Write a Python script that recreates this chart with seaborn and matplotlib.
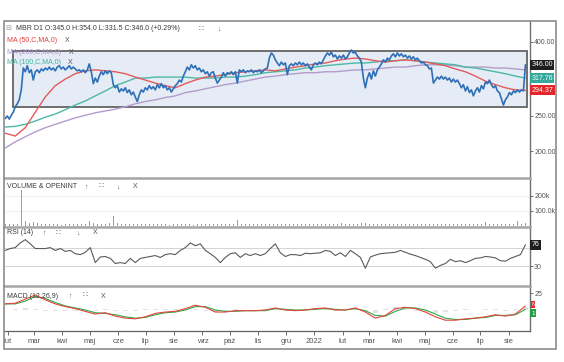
import numpy as np
import pandas as pd
import matplotlib
matplotlib.use("Agg")
import matplotlib.pyplot as plt
import matplotlib.ticker as mticker
import matplotlib.dates as mdates
import matplotlib.transforms as mtrans
from matplotlib.patches import Rectangle
import seaborn as sns

sns.set_theme(style="white")
plt.rcParams['font.family'] = ['Liberation Sans', 'DejaVu Sans']

# ---------------- data ----------------
start_date = "2021-01-29"
end_date = "2022-08-19"

price = [246, 250, 245, 251, 256, 265, 270, 277, 295, 339,
         331, 344, 329, 335, 314, 331, 335, 329, 337, 333,
         339, 335, 341, 335, 339, 333, 341, 344, 337, 341,
         335, 339, 344, 337, 341, 337, 333, 335, 331, 335,
         329, 335, 348, 331, 307, 318, 310, 322, 331, 325,
         333, 327, 333, 329, 305, 299, 303, 291, 297, 293,
         299, 290, 295, 286, 291, 282, 274, 286, 295, 291,
         299, 295, 303, 297, 301, 295, 305, 299, 307, 299,
         303, 295, 299, 291, 297, 303, 307, 314, 310, 322,
         331, 341, 335, 346, 339, 344, 335, 339, 331, 335,
         327, 331, 322, 329, 331, 318, 308, 314, 320, 329,
         322, 329, 327, 331, 325, 331, 308, 335, 331, 335,
         329, 333, 331, 335, 329, 333, 331, 335, 329, 333,
         337, 339, 361, 373, 368, 357, 350, 344, 352, 346,
         350, 325, 344, 348, 344, 350, 346, 352, 346, 350,
         344, 348, 341, 335, 346, 350, 346, 352, 348, 357,
         366, 373, 368, 375, 364, 368, 359, 366, 361, 368,
         359, 364, 373, 380, 373, 375, 366, 361, 352, 318,
         299, 318, 329, 316, 333, 322, 335, 341, 348, 357,
         352, 361, 357, 366, 371, 364, 373, 366, 371, 364,
         368, 361, 366, 359, 364, 357, 361, 355, 350, 352,
         346, 344, 337, 339, 308, 314, 320, 316, 322, 316,
         320, 314, 318, 310, 316, 310, 314, 307, 299, 305,
         293, 301, 290, 295, 284, 293, 299, 291, 303, 297,
         310, 307, 314, 305, 299, 303, 293, 290, 279, 268,
         277, 282, 290, 286, 293, 290, 295, 291, 295, 293,
         346]

ma50 = [224, 220, 232, 256, 282, 303, 316, 327, 333, 335,
        333, 331, 327, 320, 314, 308, 303, 299, 307, 314,
        320, 322, 325, 329, 331, 333, 335, 333, 337, 341,
        344, 348, 350, 355, 359, 361, 359, 355, 352, 355,
        357, 355, 352, 348, 344, 337, 331, 322, 312, 305,
        299, 295, 294]

ma100 = [233, 234, 237, 242, 248, 253, 260, 268, 275, 284,
         293, 303, 310, 318, 318, 320, 320, 320, 320, 318,
         318, 318, 320, 320, 322, 325, 329, 331, 333, 335,
         339, 341, 344, 346, 348, 350, 350, 352, 355, 355,
         357, 355, 352, 350, 348, 346, 341, 339, 335, 331,
         327, 322, 318]

ma200 = [204, 212, 219, 226, 232, 237, 242, 247, 251, 255,
         258, 261, 265, 270, 274, 277, 281, 284, 290, 293,
         297, 301, 305, 308, 312, 316, 320, 322, 325, 327,
         329, 329, 331, 331, 333, 335, 335, 337, 339, 341,
         341, 344, 346, 346, 346, 344, 341, 341, 341, 339,
         339, 337, 335]

volume_k = [8, 10, 12, 9, 240, 30, 18, 22, 14, 10,
            9, 8, 7, 10, 6, 8, 9, 7, 8, 10,
            12, 30, 18, 9, 8, 10, 14, 65, 20, 10,
            9, 12, 10, 8, 11, 9, 7, 10, 8, 9,
            7, 6, 8, 10, 9, 7, 8, 6, 9, 8,
            10, 9, 12, 8, 9, 11, 10, 13, 40, 9,
            8, 10, 9, 7, 8, 9, 10, 11, 9, 12,
            10, 8, 9, 13, 7, 9, 8, 10, 9, 11,
            12, 9, 10, 8, 14, 11, 10, 9, 12, 15,
            18, 12, 10, 9, 8, 11, 10, 9, 8, 12,
            9, 10, 8, 11, 9, 10, 12, 9, 8, 10,
            11, 9, 10, 12, 9, 13, 10, 8, 11, 9,
            25, 10, 9, 11, 8, 12, 10, 9, 30, 11,
            20]

rsi = [64, 68, 70, 80, 87, 78, 68, 68, 68, 70,
       64, 68, 62, 64, 57, 55, 60, 70, 38, 50,
       51, 47, 36, 38, 36, 47, 38, 47, 49, 51,
       53, 49, 55, 57, 55, 64, 70, 80, 74, 78,
       64, 57, 49, 38, 49, 57, 59, 49, 57, 53,
       57, 53, 57, 68, 78, 59, 51, 55, 55, 53,
       58, 57, 58, 59, 64, 62, 53, 59, 51, 64,
       57, 49, 26, 50, 54, 57, 58, 59, 60, 64,
       60, 56, 53, 49, 45, 40, 26, 32, 36, 45,
       40, 42, 38, 42, 47, 48, 51, 50, 48, 42,
       41, 47, 51, 55, 76]

macd = [9, 10, 16, 22, 15, 9, 5, 2, -2, -6,
        -4, -9, -12, -13, -10, -5, -3, -2, 2, 7,
        4, -3, -3, -1, -1, -1, 0, 3, 0, -1,
        0, 2, 3, 0, 0, 3, -3, -12, -8, 2,
        4, 2, -3, -10, -15, -15, -13, -12, -10, -7,
        -9, -6, 6]

macd_signal = [9, 9, 13, 20, 17, 11, 6, 3, 0, -4,
               -5, -7, -10, -12, -11, -7, -4, -3, 0, 5,
               5, 0, -2, -2, -1, -1, -1, 2, 1, 0,
               0, 1, 2, 1, 0, 2, -1, -8, -9, -2,
               3, 3, 0, -6, -12, -14, -14, -12, -11, -8,
               -8, -7, 1]

month_ticks = ["2021-02-01", "2021-03-01", "2021-04-01", "2021-05-01", "2021-06-01",
               "2021-07-01", "2021-08-01", "2021-09-01", "2021-10-01", "2021-11-01",
               "2021-12-01", "2022-01-01", "2022-02-01", "2022-03-01", "2022-04-01",
               "2022-05-01", "2022-06-01", "2022-07-01", "2022-08-01"]
month_labels = ["lut", "mar", "kwi", "maj", "cze", "lip", "sie", "wrz", "paź", "lis",
                "gru", "2022", "lut", "mar", "kwi", "maj", "cze", "lip", "sie"]

price_ticks = [200, 250, 400]
last_close = 346.00
last_ma100 = 317.76
last_ma50 = 294.37
rsi_tag = 76
box_start, box_end = "2021-02-06", "2022-08-21"
box_low, box_high = 265, 378

# ---------------- frames ----------------
df_p = pd.DataFrame({"date": pd.date_range(start_date, end_date, periods=len(price)), "price": price})
df_ma = pd.DataFrame({"date": pd.date_range(start_date, end_date, periods=len(ma50)),
                      "ma50": ma50, "ma100": ma100, "ma200": ma200})
df_v = pd.DataFrame({"date": pd.date_range(start_date, end_date, periods=len(volume_k)),
                     "vol": np.array(volume_k) * 1000})
df_r = pd.DataFrame({"date": pd.date_range(start_date, end_date, periods=len(rsi)), "rsi": rsi})
df_m = pd.DataFrame({"date": pd.date_range(start_date, end_date, periods=len(macd)),
                     "macd": macd, "signal": macd_signal})

# ---------------- figure ----------------
W, H = 564, 362
fig = plt.figure(figsize=(W / 100, H / 100), dpi=100)
fig.patch.set_facecolor("white")


def ax_px(x0, y0, x1, y1, sharex=None):
    return fig.add_axes([x0 / W, 1 - y1 / H, (x1 - x0) / W, (y1 - y0) / H], sharex=sharex)


ax_main = ax_px(4, 21, 530, 177)
ax_vol = ax_px(4, 178, 530, 227, sharex=ax_main)
ax_rsi = ax_px(4, 227, 530, 286, sharex=ax_main)
ax_macd = ax_px(4, 286, 530, 331, sharex=ax_main)

RED = "#e25b5b"
TEAL = "#4db8a6"
PURPLE = "#b49ccc"
BLUE = "#2f6fb6"

# main panel
x0 = mdates.date2num(pd.Timestamp(box_start))
x1 = mdates.date2num(pd.Timestamp(box_end))
ax_main.add_patch(Rectangle((x0, box_low), x1 - x0, box_high - box_low,
                            facecolor="#e5ecf5", edgecolor="#6e6e6e", lw=1.4, zorder=1))
sns.lineplot(data=df_ma, x="date", y="ma200", color=PURPLE, lw=1.0, ax=ax_main, zorder=2)
sns.lineplot(data=df_ma, x="date", y="ma100", color=TEAL, lw=1.0, ax=ax_main, zorder=2)
sns.lineplot(data=df_ma, x="date", y="ma50", color=RED, lw=1.0, ax=ax_main, zorder=2)
sns.lineplot(data=df_p, x="date", y="price", color=BLUE, lw=1.2, ax=ax_main, zorder=3)
ax_main.set_yscale("log")
ax_main.set_ylim(169.6, 457)

# volume
for lv in (100000, 200000):
    ax_vol.axhline(lv, color="#eeeeee", lw=0.6, zorder=1)
ax_vol.bar(df_v["date"], df_v["vol"], width=1.6, color="#6fa8dc",
           edgecolor="none", linewidth=0, zorder=2)
ax_vol.set_ylim(-10000, 320000)

# rsi
for lv in (30, 70):
    ax_rsi.axhline(lv, color="#d4d4d4", lw=0.7, zorder=1)
sns.lineplot(data=df_r, x="date", y="rsi", color="#5a5a5a", lw=0.8, ax=ax_rsi, zorder=2)
ax_rsi.set_ylim(-12, 114)

# macd
ax_macd.bar(df_m["date"], np.subtract(macd, macd_signal), width=6, color="#e3e3e3",
            edgecolor="none", linewidth=0, zorder=1)
sns.lineplot(data=df_m, x="date", y="signal", color="#2eaa4a", lw=0.8, ax=ax_macd, zorder=2)
sns.lineplot(data=df_m, x="date", y="macd", color="#e5433d", lw=0.8, ax=ax_macd, zorder=3)
ax_macd.set_ylim(-30.9, 35.3)

ax_main.set_xlim(pd.Timestamp("2021-01-27 15:00"), pd.Timestamp("2022-08-24"))

# ---------------- axes styling ----------------
for ax in (ax_main, ax_vol, ax_rsi, ax_macd):
    ax.set_facecolor("white")
    ax.set_xlabel("")
    ax.set_ylabel("")
    ax.yaxis.tick_right()
    ax.yaxis.set_minor_locator(mticker.NullLocator())
    ax.tick_params(axis="y", which="both", right=True, left=False, length=2, width=0.6,
                   colors="#555555", labelsize=5, pad=1)
    for s in ax.spines.values():
        s.set_visible(False)
    ax.spines["right"].set_visible(True)
    ax.spines["right"].set_color("#707070")
    ax.spines["right"].set_linewidth(1.0)
    if ax.get_legend():
        ax.get_legend().remove()

for ax in (ax_main, ax_vol, ax_rsi):
    ax.tick_params(axis="x", bottom=False, labelbottom=False)

for ax in (ax_vol, ax_rsi, ax_macd):
    ax.spines["top"].set_visible(True)
    ax.spines["top"].set_color("#a5a5a5")
    ax.spines["top"].set_linewidth(1.8)

ax_macd.spines["bottom"].set_visible(True)
ax_macd.spines["bottom"].set_color("#606060")
ax_macd.spines["bottom"].set_linewidth(0.9)

ax_main.yaxis.set_major_locator(mticker.FixedLocator(price_ticks))
ax_main.yaxis.set_major_formatter(mticker.FixedFormatter([f"{v:.2f}" for v in price_ticks]))

ax_vol.yaxis.set_major_locator(mticker.FixedLocator([100000, 200000]))
ax_vol.yaxis.set_major_formatter(mticker.FixedFormatter(["100.0k", "200k"]))

ax_rsi.yaxis.set_major_locator(mticker.FixedLocator([30]))
ax_rsi.yaxis.set_major_formatter(mticker.FixedFormatter(["30"]))

ax_macd.yaxis.set_major_locator(mticker.FixedLocator([25]))
ax_macd.yaxis.set_major_formatter(mticker.FixedFormatter(["25"]))

ax_macd.xaxis.set_major_locator(mticker.FixedLocator(mdates.date2num(pd.to_datetime(month_ticks))))
ax_macd.xaxis.set_major_formatter(mticker.FixedFormatter(month_labels))
ax_macd.xaxis.set_minor_locator(mticker.NullLocator())
ax_macd.tick_params(axis="x", bottom=True, labelbottom=True, length=3, width=0.6,
                    colors="#555555", labelsize=5.5, pad=2)


# value tags on the right
def tag(ax, yval, text, fc, tc="white", fs=5):
    trans = mtrans.blended_transform_factory(ax.transAxes, ax.transData)
    ax.text(1.003, yval, text, transform=trans, ha="left", va="center", fontsize=fs,
            color=tc, clip_on=False, zorder=10,
            bbox=dict(boxstyle="square,pad=0.2", fc=fc, ec="none"))


tag(ax_main, last_close, f"{last_close:.2f}", "#1e1e1e")
tag(ax_main, last_ma100, f"{last_ma100:.2f}", "#35a99b", tc="#e8fffb")
tag(ax_main, last_ma50, f"{last_ma50:.2f}", "#e3262b")
tag(ax_rsi, rsi_tag, f"{rsi_tag}", "#1e1e1e")
tag(ax_macd, 8.5, "6", "#e3262b", fs=3.5)
tag(ax_macd, -4.5, "1", "#22a142", fs=4.5)


# ---------------- texts ----------------
def ftxt(x, y, s, color="#3a3a3a", fs=5, **kw):
    fig.text(x / W, 1 - y / H, s, ha="left", va="center", fontsize=fs, color=color, **kw)


ICON = "∷"
ftxt(5, 29, "⊟", color="#9a9a9a", fs=5)
ftxt(16, 29, "MBR D1 O:345.0 H:354.0 L:331.5 C:346.0 (+0.29%)")
ftxt(199, 29, ICON, color="#555555", fs=5.5)
ftxt(217, 29, "↓", color="#555555", fs=5)
ftxt(7, 41, "MA (50,C,MA,0)", color="#e0403f")
ftxt(65, 41, "X", color="#555555")
ftxt(7, 52, "MA (200,C,MA,0)", color="#a890c4")
ftxt(69, 52, "X", color="#555555")
ftxt(7, 63, "MA (100,C,MA,0)", color="#3fb3a0")
ftxt(68, 63, "X", color="#555555")

ftxt(7, 187, "VOLUME & OPENINT")
ftxt(84, 187, "↑", color="#555555")
ftxt(99, 187, ICON, color="#555555", fs=5.5)
ftxt(116, 187, "↓", color="#555555")
ftxt(133, 187, "X", color="#555555")

ftxt(7, 233, "RSI (14)")
ftxt(42, 233, "↑", color="#555555")
ftxt(56, 233, ICON, color="#555555", fs=5.5)
ftxt(76, 233, "↓", color="#555555")
ftxt(93, 233, "X", color="#555555")

ftxt(7, 296, "MACD (12,26,9)")
ftxt(68, 296, "↑", color="#555555")
ftxt(83, 296, ICON, color="#555555", fs=5.5)
ftxt(101, 296, "X", color="#555555")

# outer frame
fig.patches.append(Rectangle((4 / W, 1 - 349 / H), 552 / W, 328 / H, transform=fig.transFigure,
                             fill=False, edgecolor="#8c8c8c", lw=1.2))

fig.savefig("out.png", dpi=100, facecolor="white")
